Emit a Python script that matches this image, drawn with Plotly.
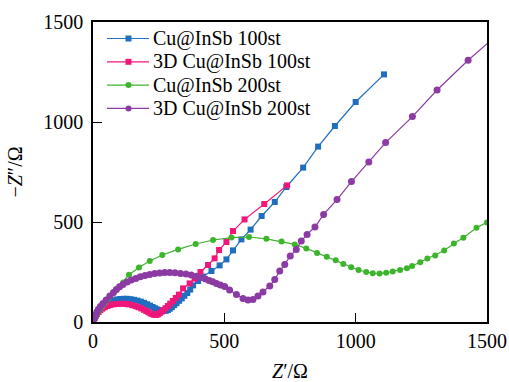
import plotly.graph_objects as go

# Cu@InSb 100st
blue_x = [1, 3, 6, 10, 15, 21, 28, 36, 45, 55, 66, 78, 91, 104, 117, 130, 143, 156, 169, 182, 194, 206, 217, 227, 236, 245, 253, 261, 269, 277,
          285, 292, 300, 309, 318, 328, 338, 348, 359, 370, 381, 400, 419, 451, 482, 508, 533, 565, 600, 642, 692, 736, 800, 857, 921, 1000, 1108]
blue_y = [2, 12, 24, 36, 48, 60, 71, 81, 90, 98, 104, 109, 113, 115, 116, 116, 114, 111, 107, 102, 96, 89, 82, 75, 69, 63, 59, 56, 55, 56,
          60, 66, 74, 84, 94, 106, 118, 131, 145, 162, 183, 205, 227, 255, 283, 313, 358, 413, 462, 530, 600, 675, 772, 877, 980, 1100, 1238]

# 3D Cu@InSb 100st
pink_x = [1, 3, 6, 10, 15, 21, 28, 36, 45, 55, 66, 78, 90, 102, 114, 126, 138, 150, 162, 173, 184, 194, 203, 211, 219, 226, 233, 240,
          247, 254, 261, 268, 276, 285, 294, 304, 315, 327, 343, 368, 387, 409, 438, 463, 480, 508, 533, 577, 652, 739]
pink_y = [2, 10, 20, 30, 40, 50, 59, 67, 74, 80, 85, 88, 90, 91, 91, 90, 88, 84, 79, 74, 68, 61, 55, 49, 43, 39, 36, 35,
          38, 44, 51, 59, 69, 80, 92, 105, 120, 137, 168, 193, 217, 250, 285, 318, 360, 400, 455, 513, 590, 683]

# Cu@InSb 200st
green_x = [1, 3, 6, 10, 15, 20, 26, 33, 40, 48, 57, 66, 77, 89, 101, 115, 137, 175, 216, 264, 324, 391, 457, 527, 594, 660, 718, 768,
           812, 853, 890, 924, 953, 983, 1011, 1040, 1065, 1091, 1116, 1141, 1169, 1195, 1215, 1246, 1273, 1303, 1337, 1374, 1410, 1460, 1500, 1530]
green_y = [2, 8, 16, 26, 38, 50, 62, 75, 88, 100, 115, 128, 145, 160, 178, 198, 236, 272, 305, 335, 363, 390, 410, 422, 425, 416, 402, 388,
           368, 345, 326, 309, 290, 274, 260, 250, 244, 243, 246, 253, 260, 269, 280, 299, 318, 333, 357, 392, 421, 471, 498, 525]

# 3D Cu@InSb 200st
purple_x = [1, 3, 6, 10, 15, 21, 28, 38, 50, 64, 78, 89, 101, 114, 130, 146, 163, 180, 198, 216, 235, 254, 273, 292, 312, 333, 354, 374,
            394, 413, 428, 442, 456, 470, 485, 501, 520, 546, 571, 590, 609, 628, 647, 673, 692, 711, 730, 751, 774, 793, 815, 845, 878,
            929, 984, 1050, 1114, 1216, 1310, 1428, 1540]
purple_y = [3, 12, 24, 36, 50, 64, 78, 92, 110, 130, 148, 163, 176, 188, 200, 210, 218, 226, 233, 238, 243, 245, 247, 247, 246, 243, 240, 235,
            229, 222, 215, 208, 201, 193, 185, 177, 160, 138, 118, 110, 113, 130, 150, 180, 213, 255, 288, 330, 363, 405, 438, 475, 538,
            612, 702, 800, 897, 1027, 1160, 1309, 1437]

tick_vals = [0, 500, 1000, 1500]

series = [
    ("Cu@InSb 100st", blue_x, blue_y, "#1f6ebf", "square", 6),
    ("3D Cu@InSb 100st", pink_x, pink_y, "#f0167a", "square", 6),
    ("Cu@InSb 200st", green_x, green_y, "#3cb42c", "circle", 6),
    ("3D Cu@InSb 200st", purple_x, purple_y, "#8c3aa4", "circle", 7),
]

W, H = 509, 382
L, R, T, B = 93, 22, 22, 60
PW, PH = W - L - R, H - T - B

def px(xpix):
    return (xpix - L) / PW

def py(ypix):
    return (H - B - ypix) / PH

font = "Liberation Serif, Times New Roman, serif"
fig = go.Figure()
shapes, annotations = [], []
for i, (name, xs, ys, col, sym, sz) in enumerate(series):
    fig.add_trace(go.Scatter(
        x=xs, y=ys, name=name, mode="lines+markers",
        line=dict(color=col, width=1.2),
        marker=dict(color=col, symbol=sym, size=sz, line=dict(width=0)),
        showlegend=False,
    ))
    # manual legend entry
    yrow = 38.5 + i * 23.3
    shapes.append(dict(type="line", xref="paper", yref="paper",
                       x0=px(107), x1=px(149), y0=py(yrow), y1=py(yrow),
                       line=dict(color=col, width=1.2)))
    shapes.append(dict(type="rect" if sym == "square" else "circle",
                       xref="paper", yref="paper",
                       x0=px(125.5), x1=px(131.5), y0=py(yrow + 3), y1=py(yrow - 3),
                       fillcolor=col, line=dict(width=0)))
    annotations.append(dict(text=name, xref="paper", yref="paper",
                            x=px(151), y=py(yrow), xanchor="left", yanchor="middle",
                            showarrow=False, font=dict(family=font, size=20, color="black")))

fig.update_layout(
    width=W, height=H,
    margin=dict(l=L, r=R, t=T, b=B),
    paper_bgcolor="white", plot_bgcolor="white",
    font=dict(family=font, size=20, color="black"),
    showlegend=False,
    shapes=shapes, annotations=annotations,
    xaxis=dict(range=[0, 1500], tickvals=tick_vals, ticks="inside", ticklen=9,
               tickwidth=1.2, tickcolor="black", showline=True, linecolor="black", linewidth=1.5,
               mirror=True, showgrid=False, zeroline=False, automargin=False,
               title=dict(text="<i>Z</i>′/Ω", font=dict(size=20)),
               tickfont=dict(size=20)),
    yaxis=dict(range=[0, 1500], tickvals=tick_vals, ticks="inside", ticklen=9,
               tickwidth=1.2, tickcolor="black", showline=True, linecolor="black", linewidth=1.5,
               mirror=True, showgrid=False, zeroline=False, automargin=False,
               ticklabelstandoff=4,
               title=dict(text="−<i>Z</i>″/Ω", font=dict(size=20)),
               tickfont=dict(size=20)),
)

# remove the default page margin / scrollbars so the figure fills the window exactly
fig.write_html("out.html",
               config={"displayModeBar": False},
               post_script="document.body.style.margin='0';document.body.style.overflow='hidden';")
